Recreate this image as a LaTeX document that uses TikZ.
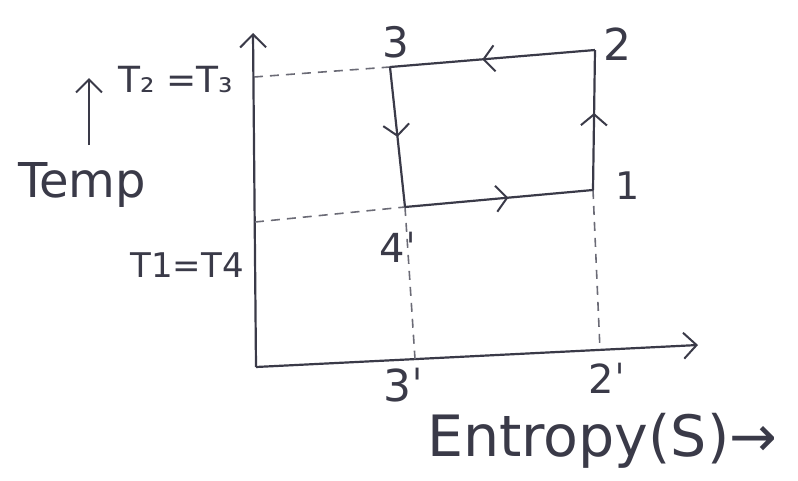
\documentclass[tikz,border=0pt]{standalone}
\usepackage{fontspec}
\setmainfont{DejaVu Sans}
\usetikzlibrary{arrows.meta,decorations.markings}
\definecolor{ink}{HTML}{3A3A48}
\tikzset{
  axis/.style={ink, line width=2.2pt, -{Straight Barb[length=13pt,width=26pt,line width=2pt]}},
  cyc/.style={ink, line width=2.2pt},
  guide/.style={ink!75, line width=1.6pt, dash pattern=on 9pt off 7pt},
  midarrow/.style={postaction={decorate}, decoration={markings,
     mark=at position #1 with {\arrow{Straight Barb[length=11pt,width=26pt,line width=2pt]}}}},
  lbl/.style={ink, inner sep=0pt, font=\fontsize{44}{46}\selectfont},
}
\begin{document}
\begin{tikzpicture}[x=1pt,y=-1pt]
\useasboundingbox (0,0) rectangle (798,480);
% axes
\coordinate (O) at (256,367);
\coordinate (Ytop) at (253,33);
\coordinate (Xend) at (698,345);
\coordinate (yT) at (254,77);
\coordinate (yB) at (255,222);
\coordinate (s3) at (415,359);
\coordinate (s2) at (600,350);
\draw[axis] (O) -- (Ytop);
\draw[axis] (O) -- (Xend);
% cycle points
\coordinate (p1) at (593,190);
\coordinate (p2) at (595,50);
\coordinate (p3) at (390,67);
\coordinate (p4) at (405,207);
% guides
\draw[guide] (yT) -- (p3);
\draw[guide] (yB) -- (p4);
\draw[guide] (p4) -- (s3);
\draw[guide] (p1) -- (s2);
% cycle
\draw[cyc, midarrow=0.55] (p2) -- (p3);
\draw[cyc, midarrow=0.5] (p3) -- (p4);
\draw[cyc, midarrow=0.55] (p4) -- (p1);
\draw[cyc, midarrow=0.55] (p1) -- (p2);
% labels
\node[lbl, font=\fontsize{42}{44}\selectfont] (l3) at (396,42) {3};
\node[lbl] (l2) at (617,44) {2};
\node[lbl, font=\fontsize{38}{40}\selectfont] (l1) at (628,186) {1};
\node[lbl, font=\fontsize{40}{42}\selectfont] (l4) at (398,247) {4ˈ};
\node[lbl] (l3p) at (404,385) {3ˈ};
\node[lbl, font=\fontsize{40}{42}\selectfont] (l2p) at (607,378) {2ˈ};
\node[lbl, font=\fontsize{48}{50}\selectfont] (temp) at (82,185) {Temp};
\node[lbl, font=\fontsize{36}{38}\selectfont] (t23) at (176,80) {T₂ =T₃};
\node[lbl, font=\fontsize{34}{36}\selectfont] (t14) at (187,265) {T1=T4};
\node[lbl, font=\fontsize{57}{59}\selectfont] (ent) at (602,441) {Entropy(S)→};
\coordinate (ta0) at (89,145);
\coordinate (ta1) at (89,78);
\draw[axis] (ta0) -- (ta1);
\end{tikzpicture}
\end{document}
